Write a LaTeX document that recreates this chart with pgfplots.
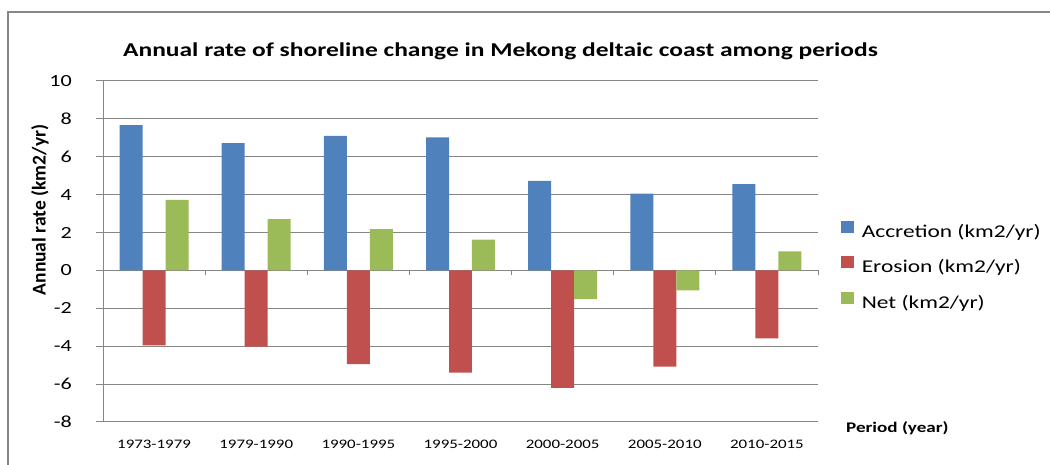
\documentclass[border=0pt]{standalone}
\usepackage{pgfplots}
\pgfplotsset{compat=1.18}
\usepackage{pgfplotstable}
\usepackage{graphicx}
\usepackage{fontspec}
\setmainfont{Carlito}[FakeStretch=1.3]
\definecolor{accr}{RGB}{79,129,189}
\definecolor{eros}{RGB}{192,80,77}
\definecolor{netc}{RGB}{155,187,89}
\definecolor{gridc}{RGB}{134,134,134}
\definecolor{framec}{RGB}{134,134,134}

\pgfplotstableread{
x acc ero net
0 7.67 -3.96 3.73
1 6.72 -4.02 2.71
2 7.10 -4.94 2.18
3 7.03 -5.40 1.62
4 4.73 -6.20 -1.51
5 4.05 -5.08 -1.05
6 4.56 -3.59 1.00
}\datatable

\begin{document}
\begin{tikzpicture}[x=1bp,y=1bp]
\path[use as bounding box] (0,0) rectangle (1050,465);
\draw[framec, line width=2bp] (8,-10) -- (8,453) -- (1060,453);
\node[anchor=base, inner sep=0pt, font=\fontsize{19.6bp}{24bp}\selectfont\bfseries] at (500.5,408.7) {Annual rate of shoreline change in Mekong deltaic coast among periods};
% zero line with boundary ticks
\begin{axis}[
  at={(103bp,43bp)}, anchor=south west,
  scale only axis, width=715bp, height=341bp,
  xmin=-0.5, xmax=6.5, ymin=-8, ymax=10,
  axis x line=middle, axis y line=none,
  x axis line style={-, gridc, line width=1bp},
  xtick={-0.5,0.5,...,6.5}, xticklabels={},
  xtick style={gridc, line width=1bp},
  tick align=outside, major tick length=5bp,
]
\end{axis}
\begin{axis}[
  at={(103bp,43bp)}, anchor=south west,
  scale only axis, width=715bp, height=341bp,
  xmin=-0.5, xmax=6.5, ymin=-8, ymax=10,
  ytick={-8,-6,...,10},
  xtick={0,...,6},
  xticklabels={1973-1979,1979-1990,1990-1995,1995-2000,2000-2005,2005-2010,2010-2015},
  axis x line*=bottom, axis y line*=left,
  x axis line style={draw=none},
  y axis line style={-, gridc, line width=1bp},
  ymajorgrids, grid style={gridc, line width=1bp},
  xtick style={draw=none},
  ytick style={gridc, line width=1bp},
  tick align=outside, major tick length=7bp,
  /pgf/number format/assume math mode=true,
  yticklabel style={font=\fontsize{17bp}{20bp}\selectfont, anchor=east, inner sep=0pt, xshift=-24bp},
  xticklabel style={font=\fontsize{13bp}{15bp}\selectfont, anchor=base, inner sep=0pt, yshift=-20bp},
  xlabel={\textbf{Period (year)}},
  xlabel style={at={(axis description cs:1,0)}, anchor=base west, inner sep=0pt, xshift=28bp, yshift=-11bp, font=\fontsize{14.7bp}{17bp}\selectfont},
  ylabel={\scalebox{1}[1.3]{\fontsize{15bp}{17bp}\selectfont\bfseries Annual rate (km2/yr)}},
  ylabel style={at={(axis description cs:-0.0881,0.6217)}, anchor=center, inner sep=0pt},
  legend image code/.code={\fill[#1] (0bp,0bp) rectangle (12.6bp,12bp);},
  legend style={at={(axis description cs:1,0.456)}, anchor=west, xshift=23bp, draw=none, fill=none, inner sep=0pt,
    font=\fontsize{18bp}{20bp}\selectfont, row sep=15bp, column sep=8bp,
    nodes={inner sep=0pt, text height=13bp, text depth=4bp}},
  legend cell align=left,
]
\addplot[ybar, fill=accr, draw=none, bar width=0.225, bar shift=-0.225] table[x=x,y=acc]{\datatable};
\addlegendentry{Accretion (km2/yr)}
\addplot[ybar, fill=eros, draw=none, bar width=0.225, bar shift=0] table[x=x,y=ero]{\datatable};
\addlegendentry{Erosion (km2/yr)}
\addplot[ybar, fill=netc, draw=none, bar width=0.225, bar shift=0.225] table[x=x,y=net]{\datatable};
\addlegendentry{Net (km2/yr)}
\end{axis}
\end{tikzpicture}
\end{document}
